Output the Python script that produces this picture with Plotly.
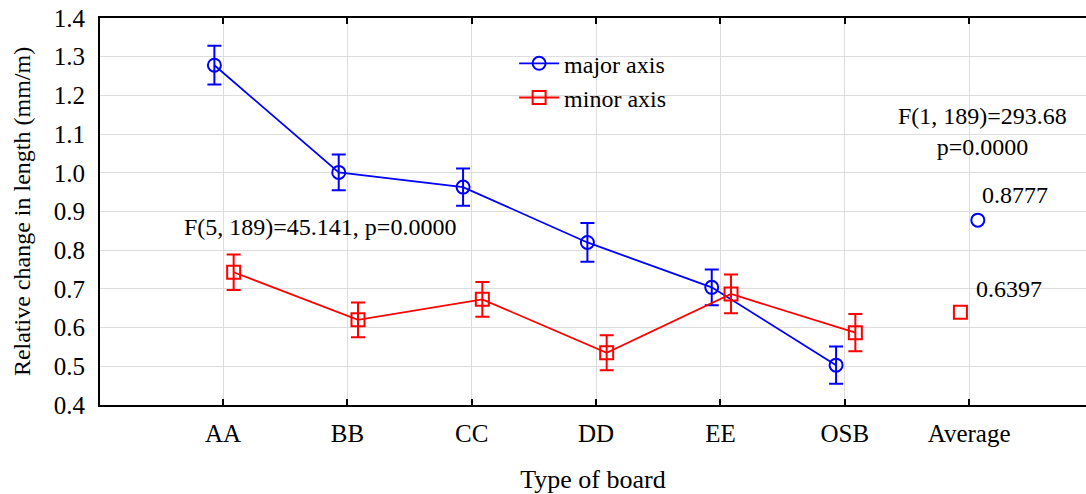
import plotly.graph_objects as go

categories = ["AA", "BB", "CC", "DD", "EE", "OSB", "Average"]
major_mean = [1.278, 1.001, 0.963, 0.820, 0.704, 0.503]
major_err = [0.050, 0.046, 0.048, 0.050, 0.046, 0.048]
minor_mean = [0.743, 0.620, 0.673, 0.535, 0.687, 0.587]
minor_err = [0.046, 0.045, 0.045, 0.045, 0.050, 0.048]
avg_major = 0.8777
avg_minor = 0.6397

cat_pos = list(range(len(categories)))
blue = "#0000FF"
red = "#FF0000"
font_fam = "Liberation Serif, Times New Roman, serif"

x_major = [i - 0.07 for i in cat_pos[:6]]
x_minor = [i + 0.085 for i in cat_pos[:6]]

fig = go.Figure()
fig.add_trace(go.Scatter(
    x=x_major, y=major_mean, mode="lines+markers", name="major axis",
    line=dict(color=blue, width=1.8),
    marker=dict(symbol="circle-open", size=13, color=blue, line=dict(width=2, color=blue)),
    error_y=dict(type="data", array=major_err, color=blue, thickness=2, width=7),
))
fig.add_trace(go.Scatter(
    x=x_minor, y=minor_mean, mode="lines+markers", name="minor axis",
    line=dict(color=red, width=1.8),
    marker=dict(symbol="square-open", size=13, color=red, line=dict(width=2, color=red)),
    error_y=dict(type="data", array=minor_err, color=red, thickness=2, width=7),
))
fig.add_trace(go.Scatter(
    x=[cat_pos[6] + 0.07], y=[avg_major], mode="markers", showlegend=False,
    marker=dict(symbol="circle-open", size=13, color=blue, line=dict(width=2, color=blue)),
))
fig.add_trace(go.Scatter(
    x=[cat_pos[6] - 0.07], y=[avg_minor], mode="markers", showlegend=False,
    marker=dict(symbol="square-open", size=13, color=red, line=dict(width=2, color=red)),
))

ann_font = dict(family=font_fam, size=24, color="black")
fig.add_annotation(x=0.78, y=0.861, xref="x", yref="y", text="F(5, 189)=45.141, p=0.0000",
                   showarrow=False, font=ann_font)
fig.add_annotation(x=6.11, y=1.108, xref="x", yref="y", text="F(1, 189)=293.68<br>p=0.0000",
                   showarrow=False, font=ann_font)
fig.add_annotation(x=6.37, y=0.943, xref="x", yref="y", text=f"{avg_major:.4f}",
                   showarrow=False, font=ann_font)
fig.add_annotation(x=6.32, y=0.700, xref="x", yref="y", text=f"{avg_minor:.4f}",
                   showarrow=False, font=ann_font)

fig.update_layout(
    width=1086, height=494,
    margin=dict(l=100, r=0, t=18, b=89),
    paper_bgcolor="white", plot_bgcolor="white",
    font=dict(family=font_fam, size=24, color="black"),
    showlegend=True,
    legend=dict(x=0.42, y=0.94, xanchor="left", yanchor="top",
                bgcolor="rgba(0,0,0,0)", font=dict(family=font_fam, size=24),
                tracegroupgap=0, itemwidth=40),
    xaxis=dict(
        range=[-0.99, 6.94], tickmode="array", tickvals=cat_pos, ticktext=categories,
        showgrid=True, gridcolor="#dddddd", gridwidth=1,
        showline=True, linecolor="black", linewidth=2, mirror="ticks",
        ticks="inside", ticklen=6, tickwidth=2, tickcolor="black",
        zeroline=False, ticklabelstandoff=5,
        title=dict(text="Type of board", font=dict(family=font_fam, size=26), standoff=24),
        tickfont=dict(family=font_fam, size=25),
    ),
    yaxis=dict(
        range=[0.4, 1.4], tickmode="array", tickvals=[0.4 + 0.1 * i for i in range(11)],
        ticktext=[f"{0.4 + 0.1 * i:.1f}" for i in range(11)],
        showgrid=True, gridcolor="#dddddd", gridwidth=1,
        showline=True, linecolor="black", linewidth=2,
        ticks="", zeroline=False, ticklabelstandoff=8,
        title=dict(text="Relative change in length (mm/m)", font=dict(family=font_fam, size=24), standoff=16),
        tickfont=dict(family=font_fam, size=25),
    ),
)

fig.write_html("out.html", config={"displayModeBar": False},
               post_script="document.body.style.margin='0';document.body.style.overflow='hidden';")
